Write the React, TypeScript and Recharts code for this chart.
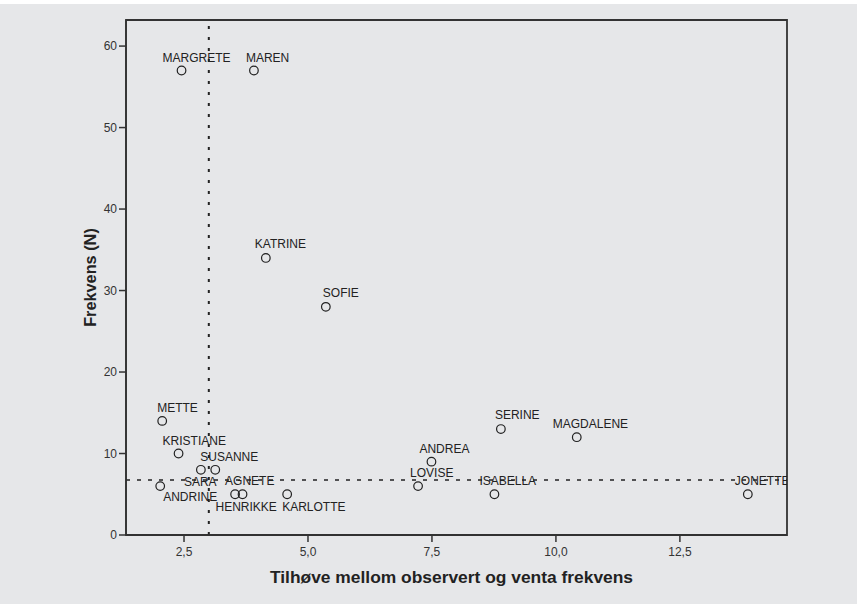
import React from 'react';
import {
    ScatterChart,
    Scatter,
    XAxis,
    YAxis,
    ReferenceLine,
    ReferenceArea,
} from 'recharts';

const names = [
    'MARGRETE', 'MAREN', 'KATRINE', 'SOFIE', 'METTE', 'KRISTIANE',
    'SARA', 'SUSANNE', 'ANDRINE', 'AGNETE', 'HENRIKKE', 'KARLOTTE',
    'LOVISE', 'ANDREA', 'SERINE', 'MAGDALENE', 'ISABELLA', 'JONETTE',
];
const ratio = [
    2.45, 3.91, 4.15, 5.36, 2.06, 2.39,
    2.84, 3.13, 2.02, 3.53, 3.68, 4.58,
    7.22, 7.49, 8.89, 10.42, 8.76, 13.87,
];
const frequency = [
    57, 57, 34, 28, 14, 10,
    8, 8, 6, 5, 5, 5,
    6, 9, 13, 12, 5, 5,
];
const xTicks = [2.5, 5, 7.5, 10, 12.5];
const yTicks = [0, 10, 20, 30, 40, 50, 60];
const xCut = 3.0;
const yCut = 6.75;

// label placement next to each point: [dx to text start, dy to text middle]
const labelPos: Record<string, [number, number]> = {
    MARGRETE: [-19, -13], MAREN: [-8, -13], KATRINE: [-11, -14], SOFIE: [-3, -14],
    METTE: [-5, -13], KRISTIANE: [-16, -13], SARA: [-17, 12], SUSANNE: [-15, -13],
    ANDRINE: [3, 11], AGNETE: [-10, -14], HENRIKKE: [-27, 12], KARLOTTE: [-5, 12],
    LOVISE: [-8, -13], ANDREA: [-12, -13], SERINE: [-6, -14], MAGDALENE: [-24, -14],
    ISABELLA: [-15, -14], JONETTE: [-13, -14],
};

const data = names.map((name, i) => ({ name, ratio: ratio[i], freq: frequency[i] }));

const W = 859;
const H = 604;
const FONT = '"Liberation Sans", Arial, sans-serif';
const INK = '#222';

const fmt = (v: number) => v.toFixed(1).replace('.', ',');

const Point = (props: any) => {
    const { cx, cy, payload } = props;
    const [dx, dy] = labelPos[payload.name] || [0, -13];
    return (
        <g>
            <circle cx={cx} cy={cy} r={4.3} fill="none" stroke={INK} strokeWidth={1.2} />
            <text x={cx + dx} y={cy + dy + 4.3} fontSize={12} fontFamily={FONT} fill={INK}>
                {payload.name}
            </text>
        </g>
    );
};

const XTitle = (props: any) => {
    const { x, y, width } = props.viewBox;
    return (
        <text x={x + width / 2 - 5} y={y + 48} textAnchor="middle" fontSize={17.4}
            fontWeight="bold" fontFamily={FONT} fill={INK}>
            Tilhøve mellom observert og venta frekvens
        </text>
    );
};

const YTitle = (props: any) => {
    const { x, y, height } = props.viewBox;
    const cx = x + 24;
    const cy = y + height / 2;
    return (
        <text x={cx} y={cy} transform={`rotate(-90, ${cx}, ${cy})`} textAnchor="middle"
            dominantBaseline="central" fontSize={16.3} fontWeight="bold" fontFamily={FONT} fill={INK}>
            Frekvens (N)
        </text>
    );
};

const App: React.FC = () => {
    return (
        <div style={{ position: 'absolute', left: 0, top: 0, width: W, height: H, background: '#fff' }}>
            <div style={{ position: 'absolute', left: 0, top: 4, width: 857, height: 600, background: '#e6e7e9' }} />
            <div style={{ position: 'absolute', left: 0, top: 0 }}>
                <ScatterChart width={W} height={H} margin={{ top: 20, right: 72, bottom: 0, left: 66 }}>
                    <XAxis
                        type="number"
                        dataKey="ratio"
                        domain={[1.33, 14.66]}
                        allowDataOverflow
                        ticks={xTicks}
                        tickFormatter={fmt}
                        height={69}
                        tickSize={7}
                        tickMargin={5}
                        stroke="#333"
                        strokeWidth={1.5}
                        tick={{ fontSize: 12, fontFamily: FONT, fill: '#333' }}
                        label={<XTitle />}
                    />
                    <YAxis
                        type="number"
                        dataKey="freq"
                        domain={[0, 63.2]}
                        ticks={yTicks}
                        width={60}
                        tickSize={7}
                        tickMargin={2}
                        stroke="#333"
                        strokeWidth={1.5}
                        tick={{ fontSize: 12, fontFamily: FONT, fill: '#333' }}
                        label={<YTitle />}
                    />
                    <ReferenceArea x1={1.33} x2={14.66} y1={0} y2={63.2} fill="none"
                        stroke="#333" strokeWidth={1.8} />
                    <ReferenceLine x={xCut} stroke={INK} strokeWidth={2} strokeDasharray="3 8" />
                    <ReferenceLine y={yCut} stroke={INK} strokeWidth={1.6} strokeDasharray="4 7" />
                    <Scatter data={data} shape={<Point />} isAnimationActive={false} />
                </ScatterChart>
            </div>
        </div>
    );
};

export default App;
